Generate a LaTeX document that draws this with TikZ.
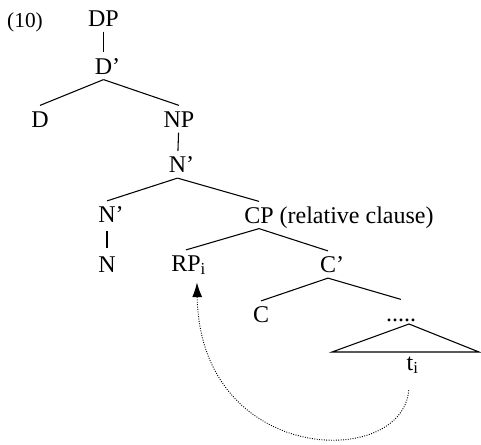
\documentclass[tikz,border=0pt]{standalone}
\usepackage{fontspec}
\setmainfont{Liberation Serif}
\usetikzlibrary{arrows.meta}
\tikzset{
  cat/.style={inner xsep=1pt,inner ysep=4pt,text height=12pt,text depth=0pt,font=\fontsize{18}{20}\selectfont},
  branch/.style={draw=black,line width=.8pt},
  trace/.style={draw=black,line width=.7pt,dash pattern=on .7pt off 1.1pt,-{Latex[length=11pt,width=7.5pt]}}
}

\begin{document}
\begin{tikzpicture}[x=.75pt,y=-.75pt]
  \fill[white] (0,0) rectangle (481,444);
  \useasboundingbox (0,0) rectangle (481,444);
  % example number
  \node[cat,font=\fontsize{16}{18}\selectfont] (exnum) at (25,19) {(10)};
  % DP layer
  \node[cat] (dp) at (103.5,18) {DP};
  \node[cat] (dbar) at (103.5,66) {D\rlap{’}};
  \node[cat] (d) at (40,119) {D};
  \node[cat] (np) at (179,119) {NP};
  % NP layer
  \node[cat] (nbar) at (177.5,164.5) {N\rlap{’}};
  \node[cat] (nbarl) at (107,214.5) {N\rlap{’}};
  \node[cat] (n) at (107,264.5) {N};
  % relative clause
  \node[cat] (cp) at (259,215) {CP\rlap{ (relative clause)}};
  \node[cat] (rp) at (186,263.5) {RP\rlap{\textsubscript{i}}};
  \node[cat] (cbar) at (328,264.5) {C\rlap{’}};
  \node[cat] (c) at (261,314.5) {C};
  \node[cat] (dots) at (401,313) {.....};
  \node[cat] (ti) at (410,362) {t\rlap{\textsubscript{i}}};
  \coordinate (apex) at (409,324);
  \coordinate (baseL) at (332,352);
  \coordinate (baseR) at (479,352);

  \draw[branch] (dp) -- (dbar);
  \draw[branch] (dbar.south) -- (d.north);
  \draw[branch] (dbar.south) -- (np.north);
  \draw[branch] (np) -- (nbar);
  \draw[branch] (nbar.south) -- (nbarl.north);
  \draw[branch] (nbar.south) -- (cp.north);
  \draw[branch,shorten <=2pt,shorten >=2pt] (nbarl) -- (n);
  \draw[branch] (cp.south) -- (rp.north);
  \draw[branch] (cp.south) -- (cbar.north);
  \draw[branch] (cbar.south) -- (c.north);
  \draw[branch] (cbar.south) -- (dots.north);
  \draw[branch] (apex) -- (baseL) -- (baseR) -- cycle;
  % movement of the relative pronoun
  \draw[trace,shorten <=11pt] (ti.south) .. controls (402,470) and (200,465) .. ([xshift=-4pt,yshift=-4pt]rp.south east);
\end{tikzpicture}
\end{document}
